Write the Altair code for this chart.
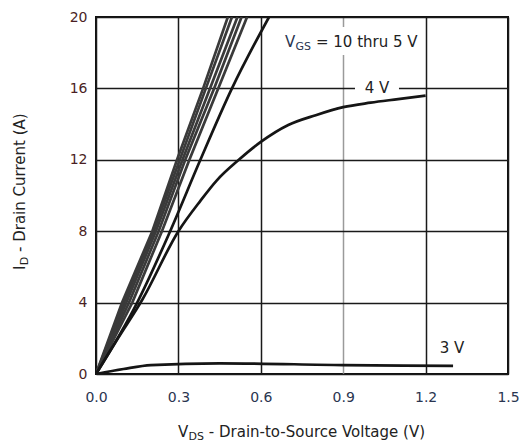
import altair as alt
import pandas as pd

# ---- data ----
x_ticks = [0.0, 0.3, 0.6, 0.9, 1.2, 1.5]
y_ticks = [0, 4, 8, 12, 16, 20]

# VGS = 10 thru 6 V bundle (drain current points, A) and their VDS (V)
bundle_id = [0, 4, 8, 12, 16, 20]
vds_10v = [0, 0.095, 0.205, 0.295, 0.390, 0.480]
vds_9v = [0, 0.102, 0.210, 0.305, 0.400, 0.495]
vds_8v = [0, 0.110, 0.218, 0.315, 0.415, 0.515]
vds_7v = [0, 0.120, 0.228, 0.325, 0.430, 0.530]
vds_6v = [0, 0.132, 0.240, 0.340, 0.445, 0.550]
# 5 V line
vds_5v = [0, 0.150, 0.270, 0.380, 0.495, 0.630]
id_5v = [0, 4, 8, 12, 16, 20]
# 4 V curve
vds_4v = [0, 0.08, 0.17, 0.30, 0.38, 0.44, 0.52, 0.60, 0.70, 0.80, 0.90, 1.00, 1.10, 1.20]
id_4v = [0, 2.0, 4.2, 8.0, 9.7, 10.85, 12.0, 13.0, 13.95, 14.5, 14.95, 15.2, 15.4, 15.6]
# 3 V curve
vds_3v = [0, 0.10, 0.20, 0.45, 0.90, 1.30]
id_3v = [0, 0.28, 0.50, 0.60, 0.50, 0.45]

label_text = ["4 V", "3 V"]
label_v = [1.023, 1.296]
label_i = [16.0, 1.46]

vgs_anchor_v = 0.688
vgs_anchor_i = 18.32

FONT = "DejaVu Sans"

def make_rows(name, vs, ids):
    return [{"curve": name, "k": k, "v": v, "i": i} for k, (v, i) in enumerate(zip(vs, ids))]

bundle_rows = []
for nm, vs in [("10V", vds_10v), ("9V", vds_9v), ("8V", vds_8v), ("7V", vds_7v), ("6V", vds_6v)]:
    bundle_rows += make_rows(nm, vs, bundle_id)
bundle_df = pd.DataFrame(bundle_rows)

line5_df = pd.DataFrame(make_rows("5V", vds_5v, id_5v))
curves_df = pd.DataFrame(make_rows("4V", vds_4v, id_4v) + make_rows("3V", vds_3v, id_3v))

labels_df = pd.DataFrame({"t": label_text, "v": label_v, "i": label_i})
vgs_df = pd.DataFrame({"t": ["V", "GS", "= 10 thru 5 V"], "v": [vgs_anchor_v] * 3,
                       "i": [vgs_anchor_i] * 3, "part": [0, 1, 2]})

xscale = alt.Scale(domain=[0, 1.5], nice=False)
yscale = alt.Scale(domain=[0, 20], nice=False)

x_axis = alt.Axis(values=x_ticks, format=".1f", title=None, grid=True,
                  gridColor=alt.condition("abs(datum.value - 0.9) < 0.01", alt.value("#9a9a9a"), alt.value("#1a1a1a")),
                  gridWidth=1.5, domain=False, ticks=False, labelFlush=False,
                  labelFont=FONT, labelFontSize=14, labelColor="#2a3550", labelPadding=16)
y_axis = alt.Axis(values=y_ticks, title=None, grid=True, gridColor="#1a1a1a", gridWidth=1.5,
                  domain=False, ticks=False, labelFlush=False,
                  labelFont=FONT, labelFontSize=14, labelColor="#4a1f24", labelPadding=9)

X = alt.X("v:Q", scale=xscale, axis=x_axis)
Y = alt.Y("i:Q", scale=yscale, axis=y_axis)
Xn = alt.X("v:Q", scale=xscale)
Yn = alt.Y("i:Q", scale=yscale)

# white boxes behind labels (they break the gridlines, as in the reference)
box_4v = alt.Chart(labels_df.iloc[[0]]).mark_rect(
    color="white", xOffset=-22, x2Offset=22, yOffset=-8, y2Offset=8
).encode(x=Xn, x2="v:Q", y=Yn, y2="i:Q")
box_vgs = alt.Chart(vgs_df.iloc[[0]]).mark_rect(
    color="white", xOffset=-6, x2Offset=134, yOffset=-20, y2Offset=8
).encode(x=Xn, x2="v:Q", y=Yn, y2="i:Q")

bundle = alt.Chart(bundle_df).mark_line(color="#3a3a3a", strokeWidth=2.7, clip=True).encode(
    x=Xn, y=Yn, detail="curve:N", order="k:Q")
line5 = alt.Chart(line5_df).mark_line(color="#151515", strokeWidth=2.7, clip=True,
                                      interpolate="monotone").encode(
    x=Xn, y=Yn, detail="curve:N", order="k:Q")
curves = alt.Chart(curves_df).mark_line(color="#151515", strokeWidth=2.7, clip=True,
                                        interpolate="monotone").encode(
    x=Xn, y=Yn, detail="curve:N", order="k:Q")

lbl = alt.Chart(labels_df).mark_text(font=FONT, fontSize=15, align="center", baseline="middle",
                                     color="#222").encode(x=Xn, y=Yn, text="t:N")

vgs_v = alt.Chart(vgs_df[vgs_df.part == 0]).mark_text(font=FONT, fontSize=15, align="left",
                                                       baseline="alphabetic", color="#2a3550").encode(x=Xn, y=Yn, text="t:N")
vgs_sub = alt.Chart(vgs_df[vgs_df.part == 1]).mark_text(font=FONT, fontSize=11, align="left",
                                                         baseline="alphabetic", dx=10.6, dy=3, color="#2a3550").encode(x=Xn, y=Yn, text="t:N")
vgs_rest = alt.Chart(vgs_df[vgs_df.part == 2]).mark_text(font=FONT, fontSize=15, align="left",
                                                          baseline="alphabetic", dx=31, color="#222").encode(x=Xn, y=Yn, text="t:N")

# axis titles with subscripts
def txt(s, x, y, size, angle=0, color="#222"):
    return alt.Chart(pd.DataFrame({"t": [s]})).mark_text(
        font=FONT, fontSize=size, align="left", baseline="alphabetic", angle=angle, color=color
    ).encode(x=alt.value(x), y=alt.value(y), text="t:N")

xt1 = txt("V", 82, 420, 15)
xt2 = txt("DS", 92.6, 423, 11)
xt3 = txt("- Drain-to-Source Voltage (V)", 112.8, 420, 15)
yt1 = txt("I", -71, 253, 15, angle=270)
yt2 = txt("D", -68, 248.3, 11, angle=270)
yt3 = txt("- Drain Current (A)", -71, 235, 15, angle=270)

base = alt.Chart(pd.DataFrame({"v": [0], "i": [0]})).mark_point(opacity=0).encode(x=X, y=Y)

chart = alt.layer(
    base, box_4v, box_vgs, bundle, line5, curves, lbl, vgs_v, vgs_sub, vgs_rest,
    xt1, xt2, xt3, yt1, yt2, yt3
).properties(
    width=412, height=357,
    padding={"left": 96, "top": 17, "right": 13, "bottom": 71},
    autosize=alt.AutoSizeParams(type="none"),
    background="white",
).configure_view(stroke="#111", strokeWidth=2)

chart.save("out.html", embed_options={"renderer": "svg", "actions": False})
